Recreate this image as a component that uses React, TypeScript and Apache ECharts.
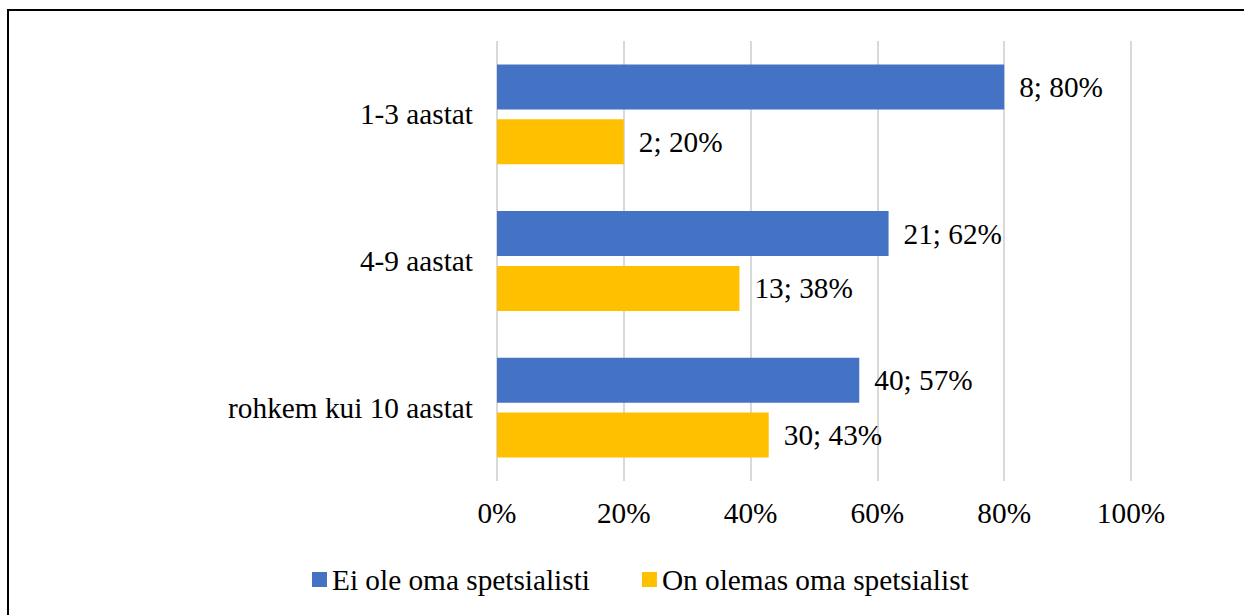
import React, { useEffect, useRef } from "react";
import * as echarts from "echarts";

const categories = ["1-3 aastat", "4-9 aastat", "rohkem kui 10 aastat"];
const seriesNames = ["Ei ole oma spetsialisti", "On olemas oma spetsialist"];
const countsNo = [8, 21, 40];
const countsYes = [2, 13, 30];
const percentNo = [80, 61.76, 57.14];
const percentYes = [20, 38.24, 42.86];
const xTicks = { min: 0, max: 100, interval: 20 };

const FONT = "'Liberation Serif', 'Times New Roman', serif";
const FS = 29.3;

export default function App() {
  const ref = useRef<HTMLDivElement>(null);
  useEffect(() => {
    if (!ref.current) return;
    const chart = echarts.init(ref.current, null, { renderer: "svg" });
    const mkLabel = (counts: number[], pcts: number[]) => ({
      show: true,
      position: "right",
      distance: 15,
      color: "#000",
      fontFamily: FONT,
      fontSize: FS,
      formatter: (p: any) => `${counts[p.dataIndex]}; ${Math.round(pcts[p.dataIndex])}%`,
    });
    chart.setOption({
      animation: false,
      backgroundColor: "#fff",
      textStyle: { fontFamily: FONT },
      graphic: [
        {
          type: "rect",
          shape: { x: 8, y: 10, width: 1400, height: 800 },
          style: { fill: "none", stroke: "#000", lineWidth: 2 },
          silent: true,
        },
      ],
      grid: { left: 497, right: 113, top: 41, bottom: 134, containLabel: false },
      legend: {
        left: 307,
        top: 560,
        itemWidth: 15,
        itemHeight: 15,
        itemGap: 52,
        icon: "rect",
        textStyle: { fontFamily: FONT, fontSize: FS, color: "#000" },
        data: seriesNames,
      },
      xAxis: {
        type: "value",
        min: xTicks.min,
        max: xTicks.max,
        interval: xTicks.interval,
        axisLine: { show: false },
        axisTick: { show: false },
        axisLabel: {
          formatter: "{value}%",
          color: "#000",
          fontFamily: FONT,
          fontSize: FS,
          margin: 17,
        },
        splitLine: { show: true, lineStyle: { color: "#d9d9d9", width: 2 } },
      },
      yAxis: {
        type: "category",
        inverse: true,
        data: categories,
        axisLine: { show: false },
        axisTick: { show: false },
        axisLabel: {
          color: "#000",
          fontFamily: FONT,
          fontSize: FS,
          margin: 24,
        },
      },
      series: [
        {
          name: seriesNames[0],
          type: "bar",
          data: percentNo,
          barWidth: 45,
          barGap: "22%",
          itemStyle: { color: "#4472C4" },
          label: mkLabel(countsNo, percentNo),
        },
        {
          name: seriesNames[1],
          type: "bar",
          data: percentYes,
          barWidth: 45,
          barGap: "22%",
          itemStyle: { color: "#FFC000" },
          label: mkLabel(countsYes, percentYes),
        },
      ],
    });
    return () => chart.dispose();
  }, []);
  return (
    <div
      ref={ref}
      style={{ position: "absolute", left: 0, top: 0, width: 1244, height: 615, overflow: "hidden" }}
    />
  );
}
